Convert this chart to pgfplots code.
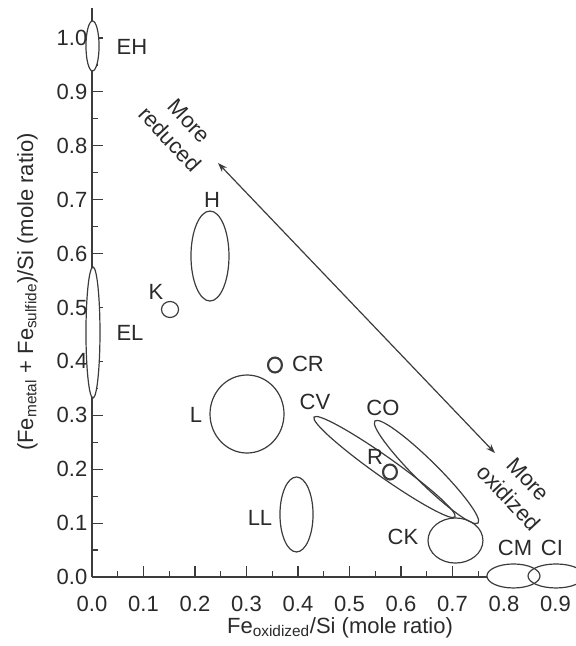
\documentclass[border=0pt]{standalone}
\usepackage{pgfplots}
\pgfplotsset{compat=1.18}
\usepackage{fontspec}
\setmainfont{Liberation Sans}
\usetikzlibrary{arrows.meta}
\definecolor{ink}{HTML}{3C3C3C}
\definecolor{txt}{HTML}{2A2A2A}
\newcommand\lab{\fontsize{16.5}{20}\selectfont}

\begin{document}
\begin{tikzpicture}
\begin{axis}[
  x=386.25pt, y=404.25pt,
  xmin=0, xmax=0.92, ymin=0, ymax=1.055,
  axis lines=left,
  axis line style={-, draw=ink, line width=0.9pt},
  xtick={0,0.1,0.2,0.3,0.4,0.5,0.6,0.7,0.8,0.9},
  minor xtick={0.05,0.15,0.25,0.35,0.45,0.55,0.65,0.75,0.85},
  ytick={0,0.1,0.2,0.3,0.4,0.5,0.6,0.7,0.8,0.9,1.0},
  minor ytick={0.05,0.15,0.25,0.35,0.45,0.55,0.65,0.75,0.85,0.95},
  tick align=inside,
  major tick length=8pt, minor tick length=4.5pt,
  every tick/.style={draw=ink, line width=0.9pt},
  scaled ticks=false,
  /pgf/number format/fixed,
  /pgf/number format/fixed zerofill,
  /pgf/number format/precision=1,
  /pgf/number format/assume math mode=true,
  tick label style={font=\lab, text=txt},
  xticklabel style={yshift=-11pt},
  label style={font=\lab, text=txt},
  clip=false,
  xlabel={Fe\textsubscript{oxidized}/Si (mole ratio)},
  ylabel={(Fe\textsubscript{metal} + Fe\textsubscript{sulfide})/Si (mole ratio)},
  xlabel style={at={(axis description cs:0.5235,-0.0985)}, anchor=base},
  ylabel style={at={(axis description cs:-0.1245,0.5012)}, anchor=base, rotate=0},
]
% bounding box corners
\coordinate (bbTL) at (axis cs:-0.17864,1.07050);
\coordinate (bbBR) at (axis cs:0.93981,-0.12801);

% ellipses: centre (x,y), radii
\draw[ink, line width=0.9pt, fill=white] (axis cs:0.001,0.9852) ellipse [x radius=4.9pt, y radius=18.75pt];
\draw[ink, line width=0.9pt, fill=white] (axis cs:0.0019,0.4536) ellipse [x radius=5.25pt, y radius=49.1pt];
\draw[ink, line width=0.9pt] (axis cs:0.2291,0.5955) ellipse [x radius=14.25pt, y radius=33.75pt];
\draw[ink, line width=0.9pt] (axis cs:0.1515,0.4963) ellipse [x radius=6.4pt, y radius=6pt];
\draw[ink, line width=0.9pt] (axis cs:0.3010,0.3024) ellipse [x radius=27.75pt, y radius=29.25pt];
\draw[ink, line width=0.9pt] (axis cs:0.3971,0.1160) ellipse [x radius=12.4pt, y radius=28.1pt];
\draw[ink, line width=0.9pt, rotate around={-35.3:(axis cs:0.5680,0.2041)}] (axis cs:0.5680,0.2041) ellipse [x radius=64.8pt, y radius=7.5pt];
\draw[ink, line width=0.9pt, rotate around={-44.7:(axis cs:0.6495,0.1948)}] (axis cs:0.6495,0.1948) ellipse [x radius=54.4pt, y radius=8.5pt];
\draw[ink, line width=0.9pt] (axis cs:0.7058,0.0677) ellipse [x radius=20.6pt, y radius=16.9pt];
\draw[ink, line width=1.6pt] (axis cs:0.3553,0.3933) ellipse [x radius=5.2pt, y radius=5.6pt];
\draw[ink, line width=1.6pt] (axis cs:0.5786,0.1948) ellipse [x radius=5.2pt, y radius=5.6pt];
\fill[white] (axis cs:0.8184,0.0019) ellipse [x radius=19.9pt, y radius=9pt];
\fill[white] (axis cs:0.9010,0.0019) ellipse [x radius=21pt, y radius=9pt];
\draw[ink, line width=0.9pt] (axis cs:0.8184,0.0019) ellipse [x radius=19.9pt, y radius=9pt];
\draw[ink, line width=0.9pt] (axis cs:0.9010,0.0019) ellipse [x radius=21pt, y radius=9pt];

% arrow
\addplot[ink, line width=0.9pt, {Stealth[length=7pt,width=5pt]}-{Stealth[length=7pt,width=5pt]}] coordinates {(0.2447,0.768) (0.7825,0.230)};

% labels
\node[txt, font=\lab] at (axis cs:0.0777,0.9833) {EH};
\node[txt, font=\lab] at (axis cs:0.2330,0.6994) {H};
\node[txt, font=\lab] at (axis cs:0.1243,0.5288) {K};
\node[txt, font=\lab] at (axis cs:0.0738,0.4527) {EL};
\node[txt, font=\lab] at (axis cs:0.4194,0.3952) {CR};
\node[txt, font=\lab] at (axis cs:0.2019,0.3006) {L};
\node[txt, font=\lab] at (axis cs:0.4330,0.3247) {CV};
\node[txt, font=\lab] at (axis cs:0.5650,0.3135) {CO};
\node[txt, font=\lab] at (axis cs:0.5495,0.2226) {R};
\node[txt, font=\lab] at (axis cs:0.3262,0.1095) {LL};
\node[txt, font=\lab] at (axis cs:0.6039,0.0742) {CK};
\node[txt, font=\lab] at (axis cs:0.8214,0.0538) {CM};
\node[txt, font=\lab] at (axis cs:0.8932,0.0538) {CI};
\node[txt, font=\lab, rotate=-47, align=center] at (axis cs:0.1699,0.8293) {More\\reduced};
\node[txt, font=\lab, rotate=-47, align=center] at (axis cs:0.8282,0.1642) {More\\oxidized};
\end{axis}
\pgfresetboundingbox
\path[use as bounding box] (bbTL) rectangle (bbBR);
\end{tikzpicture}
\end{document}
